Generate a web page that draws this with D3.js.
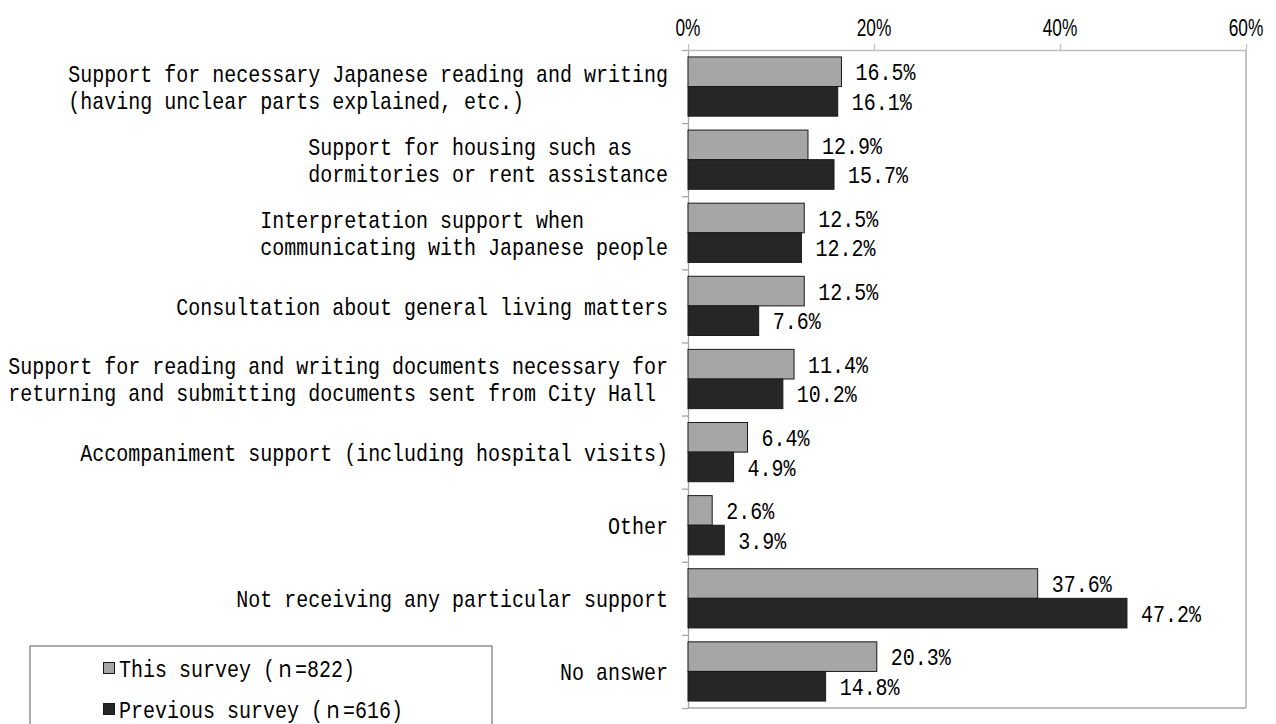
<!DOCTYPE html>
<html>
<head>
<meta charset="utf-8">
<script src="https://cdn.jsdelivr.net/npm/d3@7"></script>
<style>
  html, body { margin: 0; padding: 0; background: #fff; }
  svg { display: block; }
  text { font-family: "Liberation Mono", "Noto Sans CJK JP", monospace; fill: #000; }
  text.tick { font-family: "Liberation Sans", Arial, sans-serif; }
</style>
</head>
<body>
<div id="chart"></div>
<script>
// ── Data ────────────────────────────────────────────────────────────────────
const categories = [
  'Support for necessary Japanese reading and writing\n(having unclear parts explained, etc.)',
  'Support for housing such as\ndormitories or rent assistance',
  'Interpretation support when\ncommunicating with Japanese people',
  'Consultation about general living matters',
  'Support for reading and writing documents necessary for\nreturning and submitting documents sent from City Hall',
  'Accompaniment support (including hospital visits)',
  'Other',
  'Not receiving any particular support',
  'No answer'
];
const thisSurvey     = [16.5, 12.9, 12.5, 12.5, 11.4, 6.4, 2.6, 37.6, 20.3];
const previousSurvey = [16.1, 15.7, 12.2, 7.6, 10.2, 4.9, 3.9, 47.2, 14.8];
const seriesNames    = ['This survey (ｎ=822)', 'Previous survey (ｎ=616)'];
const seriesColors   = ['#a6a6a6', '#262626'];
const tickValues     = [0, 20, 40, 60];

// ── Layout ──────────────────────────────────────────────────────────────────
const W = 1276, H = 724;
const plot = { left: 688, right: 1246, top: 50, bottom: 708 };
const FONT = 24, SX = 0.8333;   // narrow half-width glyphs

const svg = d3.select('#chart').append('svg')
  .attr('width', W)
  .attr('height', H);

const x = d3.scaleLinear().domain([0, 60]).range([plot.left, plot.right]);
const y = d3.scaleBand().domain(d3.range(categories.length))
  .range([plot.top, plot.bottom])
  .paddingInner(0.19)
  .paddingOuter(0.095);
const yEdges = d3.scaleLinear().domain([0, categories.length]).range([plot.top, plot.bottom]);

function label(g, str, tx, ty, anchor, size = FONT, sx = SX) {
  return g.append('text')
    .attr('transform', `translate(${tx},${ty}) scale(${sx},1)`)
    .attr('text-anchor', anchor || 'start')
    .attr('dy', '0.36em')
    .style('font-size', size + 'px')
    .text(str);
}

// ── Frame (right / bottom) ──────────────────────────────────────────────────
svg.append('line')
  .attr('x1', plot.right).attr('x2', plot.right)
  .attr('y1', plot.top).attr('y2', plot.bottom)
  .attr('stroke', '#a6a6a6').attr('stroke-width', 1.3);
svg.append('line')
  .attr('x1', plot.left).attr('x2', plot.right)
  .attr('y1', plot.bottom).attr('y2', plot.bottom)
  .attr('stroke', '#a6a6a6').attr('stroke-width', 1.3);

// ── Top axis ────────────────────────────────────────────────────────────────
const xAxis = svg.append('g')
  .attr('transform', `translate(0,${plot.top})`)
  .call(d3.axisTop(x).tickValues(tickValues).tickSize(6).tickSizeOuter(0).tickFormat(''));
xAxis.selectAll('path, line').attr('stroke', '#bfbfbf').attr('stroke-width', 1.3);
tickValues.forEach(t => label(svg, t + '%', x(t), 27, 'middle', 24, 0.72).attr('class', 'tick'));

// ── Left axis (ticks between categories) ────────────────────────────────────
const yAxis = svg.append('g')
  .attr('transform', `translate(${plot.left},0)`)
  .call(d3.axisLeft(yEdges).tickValues(d3.range(categories.length + 1)).tickSize(6).tickSizeOuter(0).tickFormat(''));
yAxis.selectAll('path, line').attr('stroke', '#a6a6a6').attr('stroke-width', 1.3);

// ── Bars ────────────────────────────────────────────────────────────────────
const bh = y.bandwidth() / 2;
[thisSurvey, previousSurvey].forEach((vals, s) => {
  const g = svg.append('g');
  g.selectAll('rect')
    .data(vals)
    .enter().append('rect')
    .attr('x', x(0))
    .attr('y', (d, i) => y(i) + s * bh)
    .attr('width', d => x(d) - x(0))
    .attr('height', bh)
    .attr('fill', seriesColors[s])
    .attr('stroke', '#1a1a1a')
    .attr('stroke-width', 1);
  vals.forEach((d, i) => label(g, d.toFixed(1) + '%', x(d) + 14, y(i) + s * bh + bh / 2));
});

// ── Category labels ─────────────────────────────────────────────────────────
const LINE = 27;
categories.forEach((c, i) => {
  const lines = c.split('\n');
  const cy = y(i) + y.bandwidth() / 2;
  const g = svg.append('g');
  const texts = lines.map((ln, k) =>
    label(g, ln, 0, cy + (k - (lines.length - 1) / 2) * LINE));
  const maxW = d3.max(texts, t => t.node().getComputedTextLength()) * SX;
  const x0 = plot.left - 20 - maxW;
  texts.forEach((t, k) =>
    t.attr('transform', `translate(${x0},${cy + (k - (lines.length - 1) / 2) * LINE}) scale(${SX},1)`));
});

// ── Legend ──────────────────────────────────────────────────────────────────
const legend = svg.append('g');
legend.append('rect')
  .attr('x', 30).attr('y', 646)
  .attr('width', 462).attr('height', 100)
  .attr('fill', '#fff')
  .attr('stroke', '#808080')
  .attr('stroke-width', 1.3);
seriesNames.forEach((n, s) => {
  const cy = 668 + s * 41;
  legend.append('rect')
    .attr('x', 103.5).attr('y', cy - 5.5)
    .attr('width', 11).attr('height', 11)
    .attr('fill', seriesColors[s])
    .attr('stroke', '#1a1a1a')
    .attr('stroke-width', 1);
  label(legend, n, 119, cy);
});
</script>
</body>
</html>
